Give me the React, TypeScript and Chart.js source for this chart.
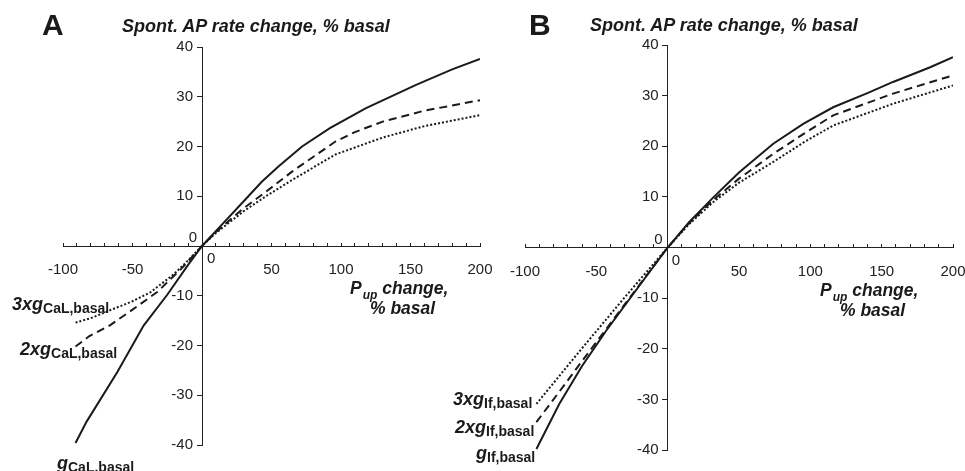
import React, { useEffect, useRef } from 'react';
import { Chart, registerables } from 'chart.js';

Chart.register(...registerables);

const FONT = '"Liberation Sans", Arial, Helvetica, sans-serif';
const INK = '#1a1a1a';

// ---- Panel A (g_CaL) ----
const A_SOLID_X = [-91, -83, -61, -42, -25, -10, 0, 15, 30, 43, 55, 72, 92, 118, 154, 180, 200];
const A_SOLID_Y = [-39.6, -35.3, -25.4, -16.0, -9.8, -3.8, 0, 4.5, 9.0, 12.9, 16.0, 20.0, 23.7, 27.7, 32.4, 35.5, 37.6];
const A_DASH_X = [-91, -81, -66, -50, -32, -15, 0, 10, 30, 46, 65, 96, 110, 130, 160, 200];
const A_DASH_Y = [-20.2, -18.1, -15.9, -12.8, -9.2, -4.6, 0, 2.8, 7.6, 10.9, 15.0, 21.0, 22.9, 25.0, 27.2, 29.3];
const A_DOT_X = [-91, -80, -66, -50, -37, -20, -10, 0, 10, 30, 46, 65, 96, 130, 160, 200];
const A_DOT_Y = [-15.4, -14.5, -12.9, -11.1, -9.3, -5.6, -2.9, 0, 2.6, 7.0, 10.0, 13.3, 18.4, 21.8, 24.1, 26.3];

// ---- Panel B (g_If) ----
const B_SOLID_X = [-92, -76, -60, -43, -20, 0, 15, 32, 50, 74, 95, 116, 140, 158, 184, 200];
const B_SOLID_Y = [-39.8, -30.9, -23.4, -16.4, -7.6, 0, 5.0, 9.9, 14.8, 20.5, 24.4, 27.7, 30.5, 32.7, 35.6, 37.6];
const B_DASH_X = [-92, -76, -61.5, -30, 0, 15, 32, 50, 74, 95, 116, 158, 200];
const B_DASH_Y = [-34.5, -28.5, -23.0, -11.2, 0, 4.8, 9.4, 13.6, 18.5, 22.4, 26.1, 30.4, 34.0];
const B_DOT_X = [-92, -61.5, -30, 0, 15, 32, 50, 74, 95, 116, 158, 200];
const B_DOT_Y = [-30.9, -20.4, -9.8, 0, 4.6, 9.0, 12.8, 16.9, 20.7, 24.1, 28.4, 32.0];

const X_MIN = -100;
const X_MAX = 200;
const Y_MIN = -40;
const Y_MAX = 40;

type Series = { x: number[]; y: number[]; dash: number[]; width: number };

// Draws the y tick labels (left of the crossing y axis) and the two "0" labels.
const axisLabels = {
  id: 'axisLabels',
  afterDraw(chart: any, _args: any, opts: any) {
    const { ctx } = chart;
    const xs = chart.scales.x;
    const ys = chart.scales.y;
    const px = xs.getPixelForValue(0);
    const py = ys.getPixelForValue(0);
    ctx.save();
    ctx.font = `15px ${FONT}`;
    ctx.fillStyle = '#222';
    ctx.textBaseline = 'middle';
    ctx.textAlign = 'right';
    for (const t of ys.ticks) {
      if (t.value === 0) continue;
      ctx.fillText(String(t.value), px - 9, ys.getPixelForValue(t.value));
    }
    ctx.fillText('0', px - 5, py - 8);
    ctx.textAlign = 'left';
    ctx.fillText('0', px + (opts.xdx ?? 5), py + 13);
    ctx.restore();
  },
};

function makeConfig(series: Series[], padding: any, labelOpts: any): any {
  return {
    type: 'line',
    data: {
      datasets: series.map((s) => ({
        data: s.x.map((x, i) => ({ x, y: s.y[i] })),
        borderColor: INK,
        borderWidth: s.width,
        borderDash: s.dash,
        pointRadius: 0,
        fill: false,
        tension: 0,
      })),
    },
    options: {
      animation: false,
      responsive: false,
      maintainAspectRatio: false,
      layout: { padding },
      plugins: {
        legend: { display: false },
        tooltip: { enabled: false },
        axisLabels: labelOpts,
      },
      scales: {
        x: {
          type: 'linear',
          min: X_MIN,
          max: X_MAX,
          position: { y: 0 },
          ticks: {
            stepSize: 10,
            autoSkip: false,
            maxRotation: 0,
            padding: 19,
            color: '#222',
            font: { family: FONT, size: 15 },
            callback: (v: number) => (v % 50 === 0 && v !== 0 ? String(v) : ''),
          },
          grid: {
            display: true,
            drawOnChartArea: false,
            drawTicks: true,
            tickLength: -4,
            color: '#222',
            lineWidth: 1,
          },
          border: { display: true, color: '#222', width: 1 },
        },
        y: {
          type: 'linear',
          min: Y_MIN,
          max: Y_MAX,
          position: { x: 0 },
          ticks: {
            stepSize: 10,
            display: false,
          },
          grid: {
            display: true,
            drawOnChartArea: false,
            drawTicks: true,
            tickLength: 5,
            color: '#222',
            lineWidth: 1,
          },
          border: { display: true, color: '#222', width: 1 },
        },
      },
    },
    plugins: [axisLabels],
  };
}

function Panel(props: { left: number; width: number; series: Series[]; padding: any; labelOpts: any }) {
  const ref = useRef<HTMLCanvasElement | null>(null);
  useEffect(() => {
    if (!ref.current) return;
    const chart = new Chart(ref.current, makeConfig(props.series, props.padding, props.labelOpts));
    return () => chart.destroy();
  }, []);
  return (
    <canvas
      ref={ref}
      width={props.width}
      height={471}
      style={{ position: 'absolute', left: props.left, top: 0, width: props.width, height: 471 }}
    />
  );
}

function T(p: { left: number; base: number; size: number; children: any; style?: any }) {
  return (
    <div
      style={{
        position: 'absolute',
        left: p.left,
        top: p.base - 0.85 * p.size,
        fontSize: p.size,
        lineHeight: `${p.size}px`,
        fontFamily: FONT,
        whiteSpace: 'nowrap',
        color: INK,
        ...(p.style || {}),
      }}
    >
      {p.children}
    </div>
  );
}

const BI = { fontWeight: 'bold', fontStyle: 'italic' } as const;

function CurveLabel(p: { left: number; base: number; main: string; sub: string }) {
  return (
    <T left={p.left} base={p.base} size={18}>
      <span style={BI}>{p.main}</span>
      <span style={{ fontWeight: 'bold', fontSize: 14, position: 'relative', top: 3 }}>{p.sub}</span>
    </T>
  );
}

function AxisTitle(p: { left: number; left2: number; base: number }) {
  return (
    <>
      <T left={p.left} base={p.base} size={17.5} style={BI}>
        P<span style={{ fontSize: 12, position: 'relative', top: 5, marginLeft: 1 }}>up</span> change,
      </T>
      <T left={p.left2} base={p.base + 20} size={17.5} style={BI}>
        % basal
      </T>
    </>
  );
}

export default function App() {
  const seriesA: Series[] = [
    { x: A_SOLID_X, y: A_SOLID_Y, dash: [], width: 2 },
    { x: A_DASH_X, y: A_DASH_Y, dash: [8, 5], width: 2 },
    { x: A_DOT_X, y: A_DOT_Y, dash: [2, 2], width: 2 },
  ];
  const seriesB: Series[] = [
    { x: B_SOLID_X, y: B_SOLID_Y, dash: [], width: 2 },
    { x: B_DASH_X, y: B_DASH_Y, dash: [8, 5], width: 2 },
    { x: B_DOT_X, y: B_DOT_Y, dash: [2, 2], width: 2 },
  ];
  return (
    <div
      style={{
        position: 'fixed',
        left: 0,
        top: 0,
        width: 965,
        height: 471,
        overflow: 'hidden',
        background: '#fff',
      }}
    >
      <Panel left={0} width={516} series={seriesA} padding={{ left: 63, right: 36, top: 47, bottom: 26 }} labelOpts={{ xdx: 5 }} />
      <Panel left={470} width={519} series={seriesB} padding={{ left: 55, right: 36, top: 45, bottom: 21 }} labelOpts={{ xdx: 4 }} />

      <T left={42} base={35} size={30} style={{ fontWeight: 'bold' }}>A</T>
      <T left={122} base={32} size={18} style={BI}>Spont. AP rate change, % basal</T>
      <T left={529} base={35} size={30} style={{ fontWeight: 'bold' }}>B</T>
      <T left={590} base={31} size={18} style={BI}>Spont. AP rate change, % basal</T>

      <AxisTitle left={350} left2={370} base={295} />
      <AxisTitle left={820} left2={840} base={297} />

      <CurveLabel left={12} base={310} main="3xg" sub="CaL,basal" />
      <CurveLabel left={20} base={355} main="2xg" sub="CaL,basal" />
      <CurveLabel left={57} base={469} main="g" sub="CaL,basal" />

      <CurveLabel left={453} base={405} main="3xg" sub="If,basal" />
      <CurveLabel left={455} base={433} main="2xg" sub="If,basal" />
      <CurveLabel left={476} base={459} main="g" sub="If,basal" />
    </div>
  );
}
